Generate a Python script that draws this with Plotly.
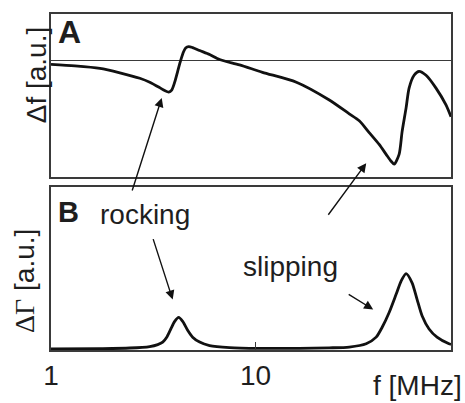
import math
import plotly.graph_objects as go

# ---- data ----
# Panel A: frequency shift (arbitrary units) vs frequency (MHz)
freq_a = [1.000, 1.309, 1.734, 2.171, 2.718, 3.040, 3.401, 3.598, 3.764, 3.893,
          4.026, 4.164, 4.307, 4.455, 4.555, 4.712, 4.928, 5.332, 5.965, 6.674,
          8.356, 10.82, 15.85, 22.96, 28.74, 32.17, 35.98, 40.26, 43.55, 46.06,
          47.64, 50.39, 52.13, 54.52, 56.39, 59.65, 63.10, 68.26, 76.36, 85.43, 90.40]
delta_f = [-0.40, -0.55, -0.80, -1.25, -1.80, -2.20, -2.75, -3.05, -3.20, -3.00,
           -2.20, -1.10, 0.00, 0.90, 1.25, 1.40, 1.30, 1.00, 0.60, 0.10,
           -0.45, -1.20, -2.20, -4.00, -5.40, -6.10, -7.30, -8.50, -9.50, -10.20,
           -10.50, -9.50, -7.20, -4.80, -2.80, -1.50, -1.10, -1.50, -2.80, -4.50, -5.70]

# Panel B: bandwidth shift (arbitrary units) vs frequency (MHz)
freq_b = [1.000, 1.734, 2.429, 3.040, 3.327, 3.518, 3.681, 3.849, 4.026, 4.211,
          4.405, 4.659, 4.928, 5.332, 5.965, 7.467, 10.46, 16.39, 22.96, 28.74,
          34.78, 38.92, 41.64, 45.05, 48.73, 51.55, 54.52, 58.32, 61.69, 65.26,
          70.61, 77.23, 88.37, 90.40]
delta_gamma = [0.00, 0.04, 0.10, 0.25, 0.45, 0.70, 1.20, 2.00, 2.80, 3.20,
               2.80, 1.90, 1.20, 0.70, 0.35, 0.15, 0.07, 0.07, 0.12, 0.20,
               0.53, 1.20, 2.20, 3.70, 5.53, 6.87, 7.63, 6.70, 5.03, 3.37,
               2.03, 1.20, 0.53, 0.47]

x_tick_vals = [1, 10]
x_tick_text = ["1", "10"]
x_max = 90.4

# ---- figure ----
W, H = 465, 403
ML, MR, MT, MB = 51, 13, 13, 50
PW, PH = W - ML - MR, H - MT - MB


def px(xp):
    return (xp - ML) / PW


def py(yp):
    return (H - MB - yp) / PH


FONT = "Liberation Sans, Arial, Helvetica, sans-serif"
FRAME = "#3a3a3a"
CURVE = "#111111"
TXT = "#1e1e1e"

fig = go.Figure()
fig.add_trace(go.Scatter(x=freq_a, y=delta_f, mode="lines", xaxis="x", yaxis="y",
                         line=dict(color=CURVE, width=2.8, shape="spline", smoothing=0.7),
                         showlegend=False, hoverinfo="skip"))
fig.add_trace(go.Scatter(x=freq_b, y=delta_gamma, mode="lines", xaxis="x2", yaxis="y2",
                         line=dict(color=CURVE, width=2.8, shape="spline", smoothing=0.7),
                         showlegend=False, hoverinfo="skip"))

xr = [0, math.log10(x_max)]

axis_common = dict(showline=True, linecolor=FRAME, linewidth=1.5, mirror=True,
                   showgrid=False)

fig.update_layout(
    width=W, height=H,
    margin=dict(l=ML, r=MR, t=MT, b=MB, pad=0),
    paper_bgcolor="white", plot_bgcolor="white",
    font=dict(family=FONT, color=TXT),
    xaxis=dict(type="log", range=xr, domain=[0, 1], anchor="y",
               showticklabels=False, ticks="", zeroline=False, **axis_common),
    yaxis=dict(range=[-11.8, 4.7], domain=[py(178), 1], anchor="x",
               showticklabels=False, ticks="", zeroline=True, zerolinecolor=FRAME,
               zerolinewidth=1.2, **axis_common),
    xaxis2=dict(type="log", range=xr, domain=[0, 1], anchor="y2",
                tickvals=x_tick_vals, ticktext=x_tick_text, ticks="inside",
                ticklen=8, tickwidth=1.2, tickcolor=FRAME,
                tickfont=dict(size=28, family=FONT, color=TXT),
                zeroline=False, **axis_common),
    yaxis2=dict(range=[-0.1, 16.4], domain=[0, py(188)], anchor="x2",
                showticklabels=False, ticks="", zeroline=False, **axis_common),
)

ann = []
# panel letters
ann.append(dict(text="<b>A</b>", x=px(56), y=py(31), xref="paper", yref="paper",
                xanchor="left", yanchor="middle", showarrow=False,
                font=dict(size=32, family=FONT, color=TXT)))
ann.append(dict(text="<b>B</b>", x=px(56), y=py(213), xref="paper", yref="paper",
                xanchor="left", yanchor="middle", showarrow=False,
                font=dict(size=29, family=FONT, color=TXT)))
# axis titles
ann.append(dict(text="Δf [a.u.]", x=px(36), y=py(75), xref="paper", yref="paper",
                xanchor="center", yanchor="middle", textangle=-90, showarrow=False,
                font=dict(size=28, family=FONT, color=TXT)))
ann.append(dict(text='<span style="font-family:Liberation Serif, Times New Roman, serif">ΔΓ</span> [a.u.]',
                x=px(25), y=py(283), xref="paper", yref="paper",
                xanchor="center", yanchor="middle", textangle=-90, showarrow=False,
                font=dict(size=28, family=FONT, color=TXT)))
ann.append(dict(text="f [MHz]", x=px(465), y=py(389), xref="paper", yref="paper",
                xanchor="right", yanchor="middle", showarrow=False,
                font=dict(size=28, family=FONT, color=TXT)))
# labels
ann.append(dict(text="rocking", x=px(145), y=py(216), xref="paper", yref="paper",
                xanchor="center", yanchor="middle", showarrow=False,
                font=dict(size=28, family=FONT, color=TXT)))
ann.append(dict(text="slipping", x=px(291), y=py(268), xref="paper", yref="paper",
                xanchor="center", yanchor="middle", showarrow=False,
                font=dict(size=28, family=FONT, color=TXT)))

# arrows: (tip_x, tip_y, tail_x, tail_y) in pixels
arrows = [(162, 98, 132, 192), (173, 302, 153, 240),
          (367, 164, 328, 217), (374, 312, 348, 296)]
for tx, ty, sx, sy in arrows:
    ann.append(dict(text="", x=px(tx), y=py(ty), xref="paper", yref="paper",
                    ax=sx - tx, ay=sy - ty, axref="pixel", ayref="pixel",
                    showarrow=True, arrowhead=2, arrowsize=1.3, arrowwidth=1.4,
                    arrowcolor="#111111", standoff=0))
fig.update_layout(annotations=ann)

fig.write_html("out.html")
